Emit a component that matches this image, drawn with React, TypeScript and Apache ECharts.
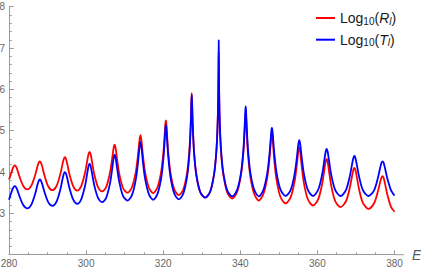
import React, { useEffect, useRef } from 'react';
import * as echarts from 'echarts';

const energy = [
  280,
  280.3, 280.9, 281.25, 281.5, 281.75, 282.1, 282.7, 283.7, 284.75,
  285.8, 286.8, 287.4, 287.75, 288.0, 288.25, 288.6, 289.2, 290.2, 291.25,
  292.3, 293.3, 293.9, 294.25, 294.5, 294.75, 295.1, 295.7, 296.7, 297.7,
  298.7, 299.7, 300.3, 300.65, 300.9, 301.15, 301.5, 302.1, 303.1, 304.15,
  305.2, 306.2, 306.8, 307.15, 307.4, 307.65, 308.0, 308.6, 309.6, 310.75,
  311.9, 312.9, 313.5, 313.85, 314.1, 314.35, 314.7, 315.3, 316.3, 317.4,
  318.5, 319.5, 320.1, 320.45, 320.6, 320.7, 320.8, 320.95, 321.3, 321.9, 322.9, 324.05,
  325.2, 326.2, 326.8, 327.15, 327.3, 327.4, 327.5, 327.65, 328.0, 328.6, 329.6, 330.9,
  332.2, 333.2, 333.7, 334.0, 334.2, 334.3, 334.35, 334.4, 334.45, 334.5, 334.6, 334.8, 335.1, 335.6, 336.6, 337.9,
  339.2, 340.2, 340.8, 341.15, 341.3, 341.4, 341.5, 341.65, 342.0, 342.6, 343.6, 344.8,
  346.0, 347.0, 347.6, 347.95, 348.1, 348.2, 348.3, 348.45, 348.8, 349.4, 350.4, 351.75,
  353.1, 354.1, 354.7, 355.05, 355.3, 355.55, 355.9, 356.5, 357.5, 358.85,
  360.2, 361.2, 361.8, 362.15, 362.4, 362.65, 363.0, 363.6, 364.6, 366.0,
  367.4, 368.4, 369.0, 369.35, 369.6, 369.85, 370.2, 370.8, 371.8, 373.25,
  374.7, 375.7, 376.3, 376.65, 376.9, 377.15, 377.5, 378.1, 379.1, 380,
];

const logR = [
  3.82,
  3.895, 4.07, 4.143, 4.16, 4.143, 4.07, 3.895, 3.663, 3.58,
  3.67, 3.93, 4.143, 4.237, 4.26, 4.235, 4.137, 3.917, 3.651, 3.56,
  3.656, 3.946, 4.203, 4.328, 4.36, 4.327, 4.2, 3.939, 3.647, 3.55,
  3.652, 3.97, 4.278, 4.444, 4.49, 4.442, 4.269, 3.954, 3.633, 3.53,
  3.637, 3.984, 4.354, 4.588, 4.66, 4.583, 4.338, 3.958, 3.608, 3.5,
  3.631, 4.008, 4.444, 4.77, 4.89, 4.768, 4.438, 3.999, 3.621, 3.49,
  3.625, 4.023, 4.526, 5.004, 5.2, 5.25, 5.194, 4.981, 4.484, 3.974, 3.575, 3.44,
  3.577, 3.988, 4.542, 5.214, 5.696, 5.91, 5.672, 5.166, 4.484, 3.928, 3.517, 3.38,
  3.529, 3.948, 4.387, 4.86, 5.447, 6.005, 6.466, 6.9, 6.454, 5.987, 5.428, 4.84, 4.367, 3.928, 3.509, 3.36,
  3.524, 3.941, 4.477, 5.054, 5.357, 5.45, 5.347, 5.024, 4.431, 3.892, 3.474, 3.31,
  3.471, 3.874, 4.357, 4.775, 4.924, 4.96, 4.918, 4.748, 4.302, 3.808, 3.401, 3.24,
  3.397, 3.78, 4.2, 4.497, 4.6, 4.486, 4.168, 3.735, 3.348, 3.19,
  3.341, 3.697, 4.05, 4.258, 4.32, 4.252, 4.03, 3.663, 3.302, 3.15,
  3.293, 3.619, 3.911, 4.06, 4.1, 4.056, 3.895, 3.588, 3.255, 3.11,
  3.244, 3.533, 3.768, 3.874, 3.9, 3.867, 3.738, 3.47, 3.159, 3.04,
];

const logT = [
  3.33,
  3.42, 3.58, 3.645, 3.66, 3.645, 3.58, 3.42, 3.2, 3.12,
  3.211, 3.477, 3.697, 3.795, 3.82, 3.799, 3.714, 3.517, 3.267, 3.18,
  3.277, 3.572, 3.836, 3.966, 4.0, 3.97, 3.854, 3.608, 3.325, 3.23,
  3.333, 3.656, 3.974, 4.15, 4.2, 4.155, 3.992, 3.688, 3.372, 3.27,
  3.377, 3.726, 4.103, 4.344, 4.42, 4.351, 4.125, 3.761, 3.417, 3.31,
  3.441, 3.821, 4.264, 4.603, 4.73, 4.608, 4.278, 3.839, 3.461, 3.33,
  3.465, 3.864, 4.374, 4.871, 5.084, 5.14, 5.085, 4.876, 4.383, 3.874, 3.475, 3.34,
  3.477, 3.888, 4.444, 5.126, 5.632, 5.87, 5.649, 5.158, 4.482, 3.928, 3.517, 3.38,
  3.529, 3.948, 4.387, 4.862, 5.455, 6.033, 6.552, 7.19, 6.575, 6.06, 5.484, 4.892, 4.417, 3.978, 3.559, 3.41,
  3.574, 3.993, 4.535, 5.138, 5.478, 5.59, 5.478, 5.138, 4.535, 3.993, 3.574, 3.41,
  3.571, 3.975, 4.459, 4.881, 5.034, 5.07, 5.035, 4.884, 4.467, 3.984, 3.58, 3.42,
  3.576, 3.958, 4.377, 4.669, 4.77, 4.669, 4.377, 3.958, 3.576, 3.42,
  3.571, 3.928, 4.285, 4.497, 4.56, 4.497, 4.285, 3.928, 3.571, 3.42,
  3.564, 3.894, 4.193, 4.348, 4.39, 4.348, 4.193, 3.894, 3.564, 3.42,
  3.557, 3.859, 4.111, 4.23, 4.26, 4.23, 4.111, 3.859, 3.557, 3.43,
];

const seriesNames = ['Log10(Rl)', 'Log10(Tl)'];
const seriesColors = ['#ff0000', '#0000ff'];
const xTicks = [280, 300, 320, 340, 360, 380];
const yTicks = [3, 4, 5, 6, 7, 8];

const FONT = "'Liberation Sans', Arial, sans-serif";
const AXIS_COLOR = '#9a9a9a';
const LABEL_COLOR = '#666666';

export default function App() {
  const ref = useRef<HTMLDivElement>(null);

  useEffect(() => {
    if (!ref.current) return;
    const chart = echarts.init(ref.current, undefined, { renderer: 'svg' });

    const gridLeft = 9;
    const gridTop = 6.7;
    const gridWidth = 385.5;
    const gridHeight = 248;

    const option: any = {
      animation: false,
      backgroundColor: '#ffffff',
      grid: {
        left: gridLeft,
        top: gridTop,
        width: gridWidth,
        height: gridHeight,
        containLabel: false,
        outerBoundsMode: 'none',
      },
      legend: {
        orient: 'vertical',
        left: 316,
        top: 11,
        padding: 0,
        itemWidth: 19,
        itemHeight: 2,
        itemGap: 6.7,
        icon: 'rect',
        data: seriesNames,
        formatter: (name: string) =>
          name === seriesNames[0]
            ? '{a|Log}{s|10}{a|(}{i|R}{si|l}{a|)}'
            : '{a|Log}{s|10}{a|(}{i|T}{si|l}{a|)}',
        textStyle: {
          color: '#1a1a1a',
          fontFamily: FONT,
          rich: {
            a: { fontSize: 14, lineHeight: 16, color: '#1a1a1a', fontFamily: FONT },
            i: { fontSize: 14, lineHeight: 16, fontStyle: 'italic', color: '#1a1a1a', fontFamily: FONT },
            s: { fontSize: 10, lineHeight: 10, verticalAlign: 'bottom', color: '#1a1a1a', fontFamily: FONT },
            si: { fontSize: 10, lineHeight: 10, verticalAlign: 'bottom', fontStyle: 'italic', color: '#1a1a1a', fontFamily: FONT },
          },
        },
      },
      xAxis: {
        type: 'value',
        min: 280,
        max: 380,
        interval: 20,
        name: 'E',
        nameLocation: 'end',
        nameGap: 17.5,
        nameTextStyle: {
          fontStyle: 'italic',
          fontSize: 14,
          color: '#555a66',
          fontFamily: FONT,
          verticalAlign: 'middle',
        },
        axisLine: { show: true, onZero: false, lineStyle: { color: AXIS_COLOR, width: 1 } },
        axisTick: { show: true, inside: true, length: 4.3, lineStyle: { color: AXIS_COLOR } },
        minorTick: { show: true, splitNumber: 4, length: 2.3, lineStyle: { color: AXIS_COLOR } },
        splitLine: { show: false },
        axisLabel: {
          color: LABEL_COLOR,
          fontSize: 10,
          fontFamily: FONT,
          margin: 4,
          formatter: (v: number) => (xTicks.includes(v) ? String(v) : ''),
        },
      },
      yAxis: {
        type: 'value',
        min: 2,
        max: 8,
        interval: 1,
        axisLine: { show: true, onZero: false, lineStyle: { color: AXIS_COLOR, width: 1 } },
        axisTick: { show: true, inside: true, length: 4.7, lineStyle: { color: AXIS_COLOR } },
        minorTick: { show: true, splitNumber: 5, length: 2.7, lineStyle: { color: AXIS_COLOR } },
        splitLine: { show: false },
        axisLabel: {
          color: LABEL_COLOR,
          fontSize: 10,
          fontFamily: FONT,
          margin: 4,
          formatter: (v: number) => (yTicks.includes(v) ? String(v) : ''),
        },
      },
      graphic: [
        {
          type: 'line',
          shape: { x1: gridLeft + gridWidth, y1: gridTop + gridHeight, x2: 404, y2: gridTop + gridHeight },
          style: { stroke: AXIS_COLOR, lineWidth: 1 },
          silent: true,
        },
      ],
      series: [
        {
          name: seriesNames[0],
          type: 'line',
          data: energy.map((x, i) => [x, logR[i]]),
          showSymbol: false,
          symbol: 'none',
          smooth: 0.3,
          color: seriesColors[0],
          lineStyle: { color: seriesColors[0], width: 1.8 },
          z: 2,
        },
        {
          name: seriesNames[1],
          type: 'line',
          data: energy.map((x, i) => [x, logT[i]]),
          showSymbol: false,
          symbol: 'none',
          smooth: 0.3,
          color: seriesColors[1],
          lineStyle: { color: seriesColors[1], width: 1.8 },
          z: 3,
        },
      ],
    };

    chart.setOption(option);
    return () => chart.dispose();
  }, []);

  return (
    <div
      ref={ref}
      style={{ position: 'absolute', left: 0, top: 0, width: 421, height: 272, background: '#fff' }}
    />
  );
}
